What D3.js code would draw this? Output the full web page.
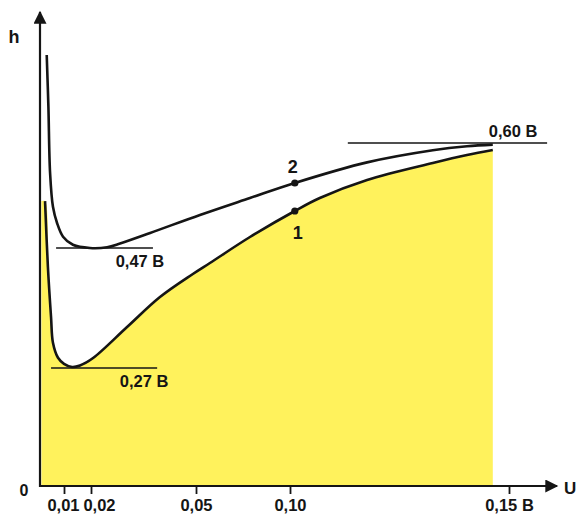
<!DOCTYPE html>
<html>
<head>
<meta charset="utf-8">
<script src="https://cdn.jsdelivr.net/npm/d3@7"></script>
<style>
  body { margin: 0; background: #fff; }
  svg { display: block; font-family: "Liberation Sans", Arial, sans-serif; }
</style>
</head>
<body>
<div id="chart"></div>
<script>
// data (U in B, h in B)
const xTicks = [0.01, 0.02, 0.05, 0.10, 0.15];
const xTickLabels = ['0,01', '0,02', '0,05', '0,10', '0,15 B'];

const curve1U = [0.0021, 0.0033, 0.0046, 0.0054, 0.0075, 0.0100, 0.0130, 0.0159, 0.0206, 0.0303, 0.0397, 0.0491, 0.0574, 0.0787, 0.1011, 0.1068, 0.1176, 0.1326, 0.1404, 0.1463];
const curve1H = [0.528, 0.438, 0.355, 0.312, 0.287, 0.277, 0.2717, 0.2742, 0.2867, 0.3383, 0.3883, 0.4267, 0.445, 0.4836, 0.5158, 0.5319, 0.5542, 0.5752, 0.5851, 0.5913];

const curve2U = [0.0028, 0.0035, 0.0042, 0.0054, 0.0071, 0.0096, 0.0133, 0.0196, 0.0246, 0.0283, 0.0369, 0.0521, 0.0787, 0.1011, 0.1176, 0.1326, 0.1404, 0.1463];
const curve2H = [0.709, 0.645, 0.563, 0.521, 0.501, 0.484, 0.474, 0.470, 0.471, 0.4756, 0.4886, 0.5109, 0.5319, 0.5505, 0.576, 0.591, 0.596, 0.598];

// marked points
const markLabels = ['1', '2'];
const markU = [0.1011, 0.1011];
const markH = [0.5158, 0.5505];

// reference levels
const levelValues = [0.27, 0.47, 0.60];
const levelLabels = ['0,27 B', '0,47 B', '0,60 B'];
const levelFrom = [0.0046, 0.0067, 0.1132];
const levelTo = [0.0389, 0.0377, 0.1587];

const WIDTH = 579;
const HEIGHT = 517;
const YELLOW = '#fff25c';
const INK = '#151515';

// schematic (piecewise) scales
const x = d3.scaleLinear()
  .domain([0, 0.01, 0.02, 0.05, 0.10, 0.15])
  .range([40, 64, 91, 196, 290, 509]);
const y = d3.scaleLinear()
  .domain([0, 0.27, 0.47, 0.60])
  .range([486, 368, 248, 143]);

const c1 = curve1U.map((u, i) => ({ u: u, h: curve1H[i] }));
const c2 = curve2U.map((u, i) => ({ u: u, h: curve2H[i] }));

const svg = d3.select('#chart')
  .append('svg')
  .attr('width', WIDTH)
  .attr('height', HEIGHT);

svg.append('defs')
  .append('marker')
  .attr('id', 'arrow')
  .attr('viewBox', '0 0 10 10')
  .attr('refX', 9)
  .attr('refY', 5)
  .attr('markerUnits', 'userSpaceOnUse')
  .attr('markerWidth', 14)
  .attr('markerHeight', 13)
  .attr('orient', 'auto')
  .append('path')
  .attr('d', 'M0,0 L10,5 L0,10 Z')
  .attr('fill', INK);

// yellow area under curve 1
const areaData = [{ u: 0.0006, h: c1[0].h }].concat(c1);
svg.append('path')
  .datum(areaData)
  .attr('fill', YELLOW)
  .attr('d', d3.area()
    .x((d) => x(d.u))
    .y0(y(0))
    .y1((d) => y(d.h))
    .curve(d3.curveCatmullRom));

// reference levels
levelValues.forEach((v, i) => {
  svg.append('line')
    .attr('x1', x(levelFrom[i]))
    .attr('x2', x(levelTo[i]))
    .attr('y1', y(v))
    .attr('y2', y(v))
    .attr('stroke', INK)
    .attr('stroke-width', 1.6);
});
svg.selectAll('.levelLabel')
  .data(levelValues)
  .join('text')
  .attr('class', 'levelLabel')
  .attr('x', (d, i) => i < 2 ? x(levelTo[i]) - 13 : x(levelTo[i]) - 34)
  .attr('y', (d, i) => i < 2 ? y(d) + 19 : y(d) - 6)
  .attr('text-anchor', 'middle')
  .style('font-size', '16.5px')
  .style('font-weight', 'bold')
  .attr('fill', INK)
  .text((d, i) => levelLabels[i]);

// curves
const line = d3.line()
  .x((d) => x(d.u))
  .y((d) => y(d.h))
  .curve(d3.curveCatmullRom);
[c1, c2].forEach((c) => {
  svg.append('path')
    .datum(c)
    .attr('fill', 'none')
    .attr('stroke', INK)
    .attr('stroke-width', 2.6)
    .attr('d', line);
});

// marked points
svg.selectAll('.mark')
  .data(markLabels)
  .join('circle')
  .attr('class', 'mark')
  .attr('cx', (d, i) => x(markU[i]))
  .attr('cy', (d, i) => y(markH[i]))
  .attr('r', 3.6)
  .attr('fill', INK);
svg.selectAll('.markLabel')
  .data(markLabels)
  .join('text')
  .attr('class', 'markLabel')
  .attr('x', (d, i) => x(markU[i]) + (i === 0 ? 3 : -2))
  .attr('y', (d, i) => y(markH[i]) + (i === 0 ? 28 : -10))
  .attr('text-anchor', 'middle')
  .style('font-size', '18px')
  .style('font-weight', 'bold')
  .attr('fill', INK)
  .text((d) => d);

// axes
svg.append('line')
  .attr('x1', x(0))
  .attr('x2', 557)
  .attr('y1', y(0))
  .attr('y2', y(0))
  .attr('stroke', INK)
  .attr('stroke-width', 2.2)
  .attr('marker-end', 'url(#arrow)');
svg.append('line')
  .attr('x1', x(0))
  .attr('x2', x(0))
  .attr('y1', y(0) + 1)
  .attr('y2', 12)
  .attr('stroke', INK)
  .attr('stroke-width', 2.2)
  .attr('marker-end', 'url(#arrow)');

const axisX = d3.axisBottom(x)
  .tickValues(xTicks)
  .tickSize(8)
  .tickPadding(5)
  .tickFormat((d, i) => xTickLabels[i]);
const gx = svg.append('g')
  .attr('transform', `translate(0,${y(0)})`)
  .call(axisX);
gx.select('.domain').remove();
gx.selectAll('line').attr('stroke', INK).attr('stroke-width', 1.8);
gx.selectAll('text')
  .attr('fill', INK)
  .attr('dx', (d, i) => (i === 0 ? -1 : i === 1 ? 8 : 0))
  .style('font-size', '16.5px')
  .style('font-weight', 'bold')
  .style('font-family', '"Liberation Sans", Arial, sans-serif');

svg.append('text')
  .attr('x', 24)
  .attr('y', y(0) + 10)
  .attr('text-anchor', 'middle')
  .style('font-size', '16px')
  .style('font-weight', 'bold')
  .attr('fill', INK)
  .text('0');
svg.append('text')
  .attr('x', 14)
  .attr('y', 43)
  .attr('text-anchor', 'middle')
  .style('font-size', '18px')
  .style('font-weight', 'bold')
  .attr('fill', INK)
  .text('h');
svg.append('text')
  .attr('x', 564)
  .attr('y', 494)
  .style('font-size', '17px')
  .style('font-weight', 'bold')
  .attr('fill', INK)
  .text('U');
</script>
</body>
</html>
